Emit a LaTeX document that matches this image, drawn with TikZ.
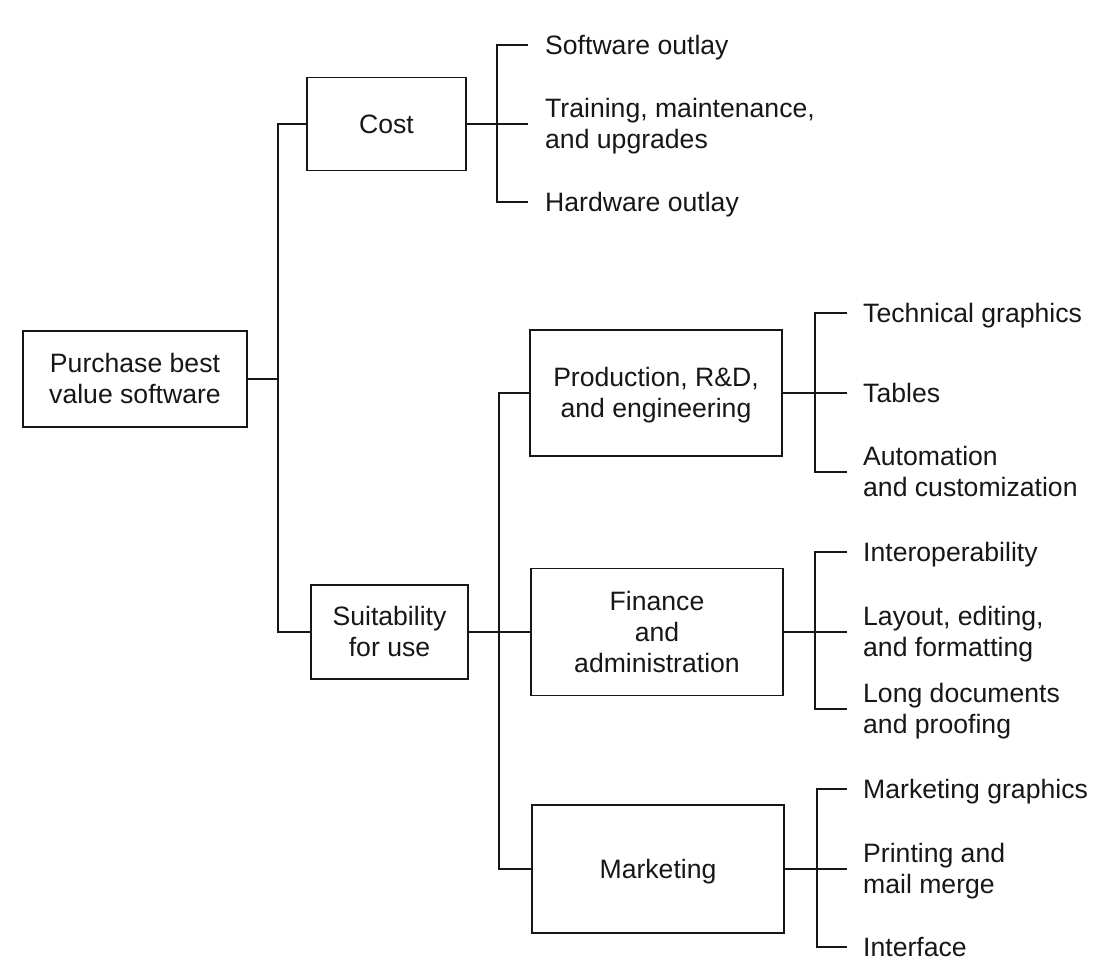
\documentclass[tikz,border=0pt]{standalone}
\usepackage{fontspec}
\setmainfont{Liberation Sans}
\definecolor{ink}{gray}{0.09}
% strut giving every line the same height and depth, so that a node's
% vertical centre falls on the middle of the capitals
\newcommand{\dgstrut}{\rule[-6pt]{0pt}{30.8pt}}
\begin{document}
\begin{tikzpicture}[x=1pt,y=-1pt,
  every node/.style={font=\fontsize{26.6pt}{31pt}\selectfont, text=ink, inner sep=0pt},
  box/.style={draw=ink, line width=1.7pt, align=center},
  leaf/.style={anchor=west, align=left},
  wire/.style={draw=ink, line width=1.7pt}]

% page
\fill[white] (0,0) rectangle (1112,972);
\useasboundingbox (0,0) rectangle (1112,972);

% goal and criteria
\node[box, minimum width=224pt, minimum height=96pt] (root) at (135,379)
  {\dgstrut Purchase best\\\dgstrut value software};
\node[box, minimum width=159pt, minimum height=93pt] (cost) at (386.5,124)
  {\dgstrut Cost};
\node[box, minimum width=157pt, minimum height=94pt] (suit) at (389.5,632)
  {\dgstrut Suitability\\\dgstrut for use};

% user groups
\node[box, minimum width=252pt, minimum height=126pt] (prod) at (656,393)
  {\dgstrut Production, R\&D,\\\dgstrut and engineering};
\node[box, minimum width=252pt, minimum height=127pt] (fin) at (657,632)
  {\dgstrut Finance\\\dgstrut and\\\dgstrut administration};
\node[box, minimum width=252pt, minimum height=128pt] (mkt) at (658,869)
  {\dgstrut Marketing};

% cost items
\node[leaf] (c1) at (545,45)  {\dgstrut Software outlay};
\node[leaf] (c2) at (545,124) {\dgstrut Training, maintenance,\\\dgstrut and upgrades};
\node[leaf] (c3) at (545,202) {\dgstrut Hardware outlay};

% production items
\node[leaf] (p1) at (863,313) {\dgstrut Technical graphics};
\node[leaf] (p2) at (863,393) {\dgstrut Tables};
\node[leaf] (p3) at (863,472) {\dgstrut Automation\\\dgstrut and customization};

% finance items
\node[leaf] (f1) at (863,552) {\dgstrut Interoperability};
\node[leaf] (f2) at (863,632) {\dgstrut Layout, editing,\\\dgstrut and formatting};
\node[leaf] (f3) at (863,709) {\dgstrut Long documents\\\dgstrut and proofing};

% marketing items
\node[leaf] (m1) at (863,789) {\dgstrut Marketing graphics};
\node[leaf] (m2) at (863,869) {\dgstrut Printing and\\\dgstrut mail merge};
\node[leaf] (m3) at (863,947) {\dgstrut Interface};

% bracket junctions
\coordinate (jA) at (278,379);
\coordinate (jC) at (497,124);
\coordinate (jS) at (499,632);
\coordinate (jP) at (815,393);
\coordinate (jF) at (815,632);
\coordinate (jM) at (817,869);

% goal to criteria
\draw[wire] (root.east) -- (jA);
\draw[wire] (cost.west) -| (jA) |- (suit.west);

% cost bracket
\draw[wire] (cost.east) -- ([xshift=-17pt]c2.west);
\draw[wire] ([xshift=-17pt]c1.west) -| (jC) |- ([xshift=-17pt]c3.west);

% suitability bracket
\draw[wire] (suit.east) -- (fin.west);
\draw[wire] (prod.west) -| (jS) |- (mkt.west);

% group brackets
\draw[wire] (prod.east) -- ([xshift=-16pt]p2.west);
\draw[wire] ([xshift=-16pt]p1.west) -| (jP) |- ([xshift=-16pt]p3.west);
\draw[wire] (fin.east) -- ([xshift=-16pt]f2.west);
\draw[wire] ([xshift=-16pt]f1.west) -| (jF) |- ([xshift=-16pt]f3.west);
\draw[wire] (mkt.east) -- ([xshift=-16pt]m2.west);
\draw[wire] ([xshift=-16pt]m1.west) -| (jM) |- ([xshift=-16pt]m3.west);
\end{tikzpicture}
\end{document}
